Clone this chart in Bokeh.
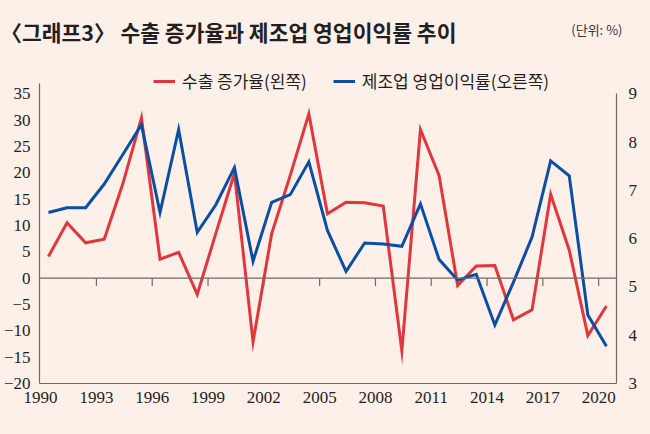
import numpy as np
from bokeh.plotting import figure
from bokeh.models import (LinearAxis, Range1d, Span, Legend, LegendItem, Label,
                          FixedTicker)
from bokeh.embed import file_html
from bokeh.resources import INLINE

# ---------------- data ----------------
years = list(range(1990, 2021))
export_growth = [4.1, 10.5, 6.7, 7.4, 17.9, 30.4, 3.6, 4.9, -3.1, 8.5,
                 19.9, -12.1, 8.4, 19.5, 31.2, 12.2, 14.4, 14.3, 13.7, -13.8,
                 28.2, 19.5, -1.4, 2.3, 2.4, -7.9, -6.0, 15.9, 5.3, -10.9, -5.3]
op_margin = [6.54, 6.64, 6.64, 7.13, 7.74, 8.36, 6.54, 8.26, 6.13, 6.70,
             7.47, 5.53, 6.75, 6.91, 7.59, 6.17, 5.32, 5.91, 5.89, 5.84,
             6.72, 5.57, 5.14, 5.26, 4.21, 5.10, 6.03, 7.61, 7.30, 4.42, 3.77]
tick_years = [1990, 1993, 1996, 1999, 2002, 2005, 2008, 2011, 2014, 2017, 2020]
left_ticks = [-20, -15, -10, -5, 0, 5, 10, 15, 20, 25, 30, 35]
right_ticks = [3, 4, 5, 6, 7, 8, 9]
series_names = ["수출 증가율(왼쪽)", "제조업 영업이익률(오른쪽)"]
title_text = "〈그래프3〉 수출 증가율과 제조업 영업이익률 추이"
unit_text = "(단위: %)"

BG = "#fcf0e9"
RED = "#e0363d"
BLUE = "#0b4ea2"
INK = "#231f20"
AXIS = "#6d6a69"
TICK_FONT = "Liberation Sans Narrow"
KR_FONT = "Noto Sans CJK KR"
W = 640

# ---------------- header (title + unit) ----------------
head = figure(width=W, height=50, output_backend="svg", toolbar_location=None,
              x_axis_type=None, y_axis_type=None,
              x_range=Range1d(0, 1), y_range=Range1d(0, 1),
              min_border_left=0, min_border_right=0, min_border_top=0,
              min_border_bottom=0)
head.background_fill_color = BG
head.border_fill_color = BG
head.outline_line_color = None
head.xgrid.visible = False
head.ygrid.visible = False
head.add_layout(Label(x=0, y=19, x_units="screen", y_units="screen",
                      text=title_text, text_font=KR_FONT, text_font_size="21.5px",
                      text_font_style="bold", text_color=INK,
                      text_baseline="middle", text_align="left"))
head.add_layout(Label(x=622, y=21, x_units="screen", y_units="screen",
                      text=unit_text, text_font=KR_FONT, text_font_size="13px",
                      text_color="#3a3536", text_baseline="middle",
                      text_align="right"))

# ---------------- main chart ----------------
x_pos = np.array(years) + 0.42  # points sit slightly right of the year tick

p = figure(width=W, height=382, output_backend="svg", toolbar_location=None,
           x_range=Range1d(1989.94, 2020.96), y_range=Range1d(-20, 43.2),
           min_border_left=39, min_border_right=W - 621, min_border_top=0,
           min_border_bottom=49)
p.extra_y_ranges = {"right": Range1d(3, 3 + 63.2 * 6 / 55)}

p.background_fill_color = BG
p.border_fill_color = BG
p.outline_line_color = None
p.xgrid.visible = False
p.ygrid.visible = False

# bottom axis
xa = p.xaxis[0]
xa.ticker = FixedTicker(ticks=tick_years)
xa.axis_line_color = AXIS
xa.axis_line_width = 1.2
xa.major_tick_line_color = None
xa.minor_tick_line_color = None
xa.major_label_standoff = 2
xa.major_label_text_font = TICK_FONT
xa.major_label_text_font_size = "17px"
xa.major_label_text_color = INK

# left axis
ya = p.yaxis[0]
ya.ticker = FixedTicker(ticks=left_ticks)
ya.bounds = (left_ticks[0], 37)
ya.major_label_overrides = {t: (f"\u2212{abs(t)}" if t < 0 else str(t)) for t in left_ticks}
ya.axis_line_color = AXIS
ya.axis_line_width = 1.2
ya.major_tick_line_color = None
ya.minor_tick_line_color = None
ya.major_label_standoff = 3
ya.major_label_text_font = TICK_FONT
ya.major_label_text_font_size = "17px"
ya.major_label_text_color = INK

# right axis
ra = LinearAxis(y_range_name="right", ticker=FixedTicker(ticks=right_ticks),
                bounds=(right_ticks[0], right_ticks[-1]))
ra.axis_line_color = AXIS
ra.axis_line_width = 1.2
ra.major_tick_line_color = None
ra.minor_tick_line_color = None
ra.major_label_standoff = 6
ra.major_label_text_font = TICK_FONT
ra.major_label_text_font_size = "17px"
ra.major_label_text_color = INK
p.add_layout(ra, "right")

# zero line with small downward ticks
p.add_layout(Span(location=0, dimension="width", line_color=AXIS, line_width=1.2))
p.segment(x0=tick_years[1:], y0=[0] * len(tick_years[1:]),
          x1=tick_years[1:], y1=[-1.5] * len(tick_years[1:]),
          line_color=AXIS, line_width=1.2)

r_red = p.line(x_pos, export_growth, line_color=RED, line_width=3, line_join="miter")
r_blue = p.line(x_pos, op_margin, y_range_name="right", line_color=BLUE,
                line_width=3, line_join="miter")

legend = Legend(items=[LegendItem(label=series_names[0], renderers=[r_red]),
                       LegendItem(label=series_names[1], renderers=[r_blue])],
                orientation="horizontal", location=(114, 290),
                glyph_width=22, glyph_height=22, label_standoff=7, spacing=26,
                padding=0, margin=0, border_line_color=None,
                background_fill_alpha=0,
                label_text_font=KR_FONT, label_text_font_size="17px",
                label_text_color=INK)
p.add_layout(legend, "center")

html = file_html([head, p], INLINE)
html = html.replace("<body>", '<body style="background-color:%s;">' % BG)
open("out.html", "w").write(html)
